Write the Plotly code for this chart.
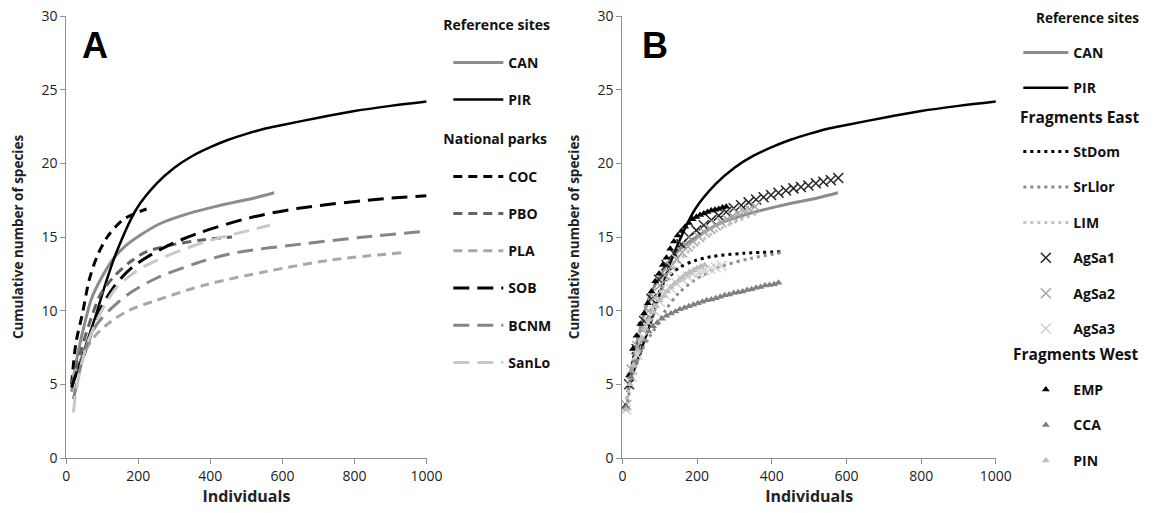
import plotly.graph_objects as go

# ---------------- Panel A data ----------------
PIR_x = [15, 40, 65, 85, 110, 140, 195, 250, 300, 350, 400, 450, 500, 550, 600, 700, 800, 900, 1000]
PIR_y = [4.8, 6.6, 8.4, 9.9, 11.9, 14.0, 16.9, 18.6, 19.7, 20.5, 21.1, 21.6, 22.0, 22.35, 22.6, 23.1,
         23.55, 23.9, 24.2]
CAN_x = [15, 30, 50, 70, 95, 130, 160, 204, 260, 341, 420, 522, 577]
CAN_y = [4.5, 6.8, 9.0, 10.8, 12.1, 13.5, 14.3, 15.1, 15.9, 16.6, 17.1, 17.65, 18.0]
COC_x = [15, 27, 45, 64, 86, 114, 159, 223]
COC_y = [5.0, 7.8, 9.8, 12.1, 13.7, 15.0, 16.2, 16.9]
PBO_x = [15, 41, 68, 95, 132, 177, 223, 300, 377, 460]
PBO_y = [5.0, 7.3, 9.4, 11.1, 12.3, 13.3, 14.0, 14.5, 14.8, 15.0]
PLA_x = [18, 45, 77, 123, 177, 250, 386, 554, 736, 936]
PLA_y = [5.5, 6.9, 8.2, 9.25, 10.05, 10.7, 11.75, 12.65, 13.44, 13.94]
SOB_x = [15, 32, 54, 73, 95, 132, 186, 277, 372, 509, 645, 881, 1000]
SOB_y = [4.8, 6.0, 7.3, 8.7, 10.1, 11.6, 13.0, 14.35, 15.3, 16.3, 16.95, 17.6, 17.8]
BCNM_x = [20, 40, 59, 86, 123, 177, 250, 359, 463, 645, 827, 1000]
BCNM_y = [4.0, 6.2, 7.8, 9.1, 10.1, 11.2, 12.2, 13.2, 13.9, 14.5, 15.0, 15.4]
SanLo_x = [20, 28, 50, 77, 105, 141, 195, 250, 359, 450, 500, 565]
SanLo_y = [3.1, 4.6, 7.1, 8.9, 10.3, 11.6, 12.7, 13.4, 14.46, 15.1, 15.4, 15.8]

# ---------------- Panel B data ----------------
StDom_x = [10, 30, 50, 72, 90, 116, 151, 195, 239, 326, 427]
StDom_y = [3.5, 6.8, 8.3, 9.6, 10.8, 12.0, 12.9, 13.4, 13.67, 13.9, 14.0]
SrLlor_x = [10, 30, 50, 72, 90, 116, 151, 195, 265, 344, 427]
SrLlor_y = [3.3, 5.8, 7.2, 8.2, 8.9, 10.05, 11.2, 12.1, 13.0, 13.55, 13.95]
LIM_x = [10, 30, 50, 75, 100, 130, 160, 200, 250, 300, 360]
LIM_y = [3.5, 6.5, 8.2, 9.8, 11.2, 12.6, 13.6, 14.5, 15.4, 16.0, 16.6]

AgSa1_x = [18, 38, 58, 78, 98, 118, 138, 158, 178, 198, 218, 238, 258, 278, 298,
           318, 338, 358, 378, 398, 418, 438, 458, 478, 498, 518, 538, 558, 578]
AgSa1_y = [5.0, 7.4, 9.3, 10.8, 12.1, 13.1, 13.9, 14.5, 15.0, 15.45, 15.8, 16.15, 16.45, 16.7, 16.95,
           17.15, 17.35, 17.55, 17.7, 17.85, 18.0, 18.15, 18.3, 18.4, 18.5, 18.65, 18.75, 18.85, 19.0]
AgSa2_x = [10, 25, 40, 55, 70, 85, 100, 115, 130, 145, 160, 175, 190, 205, 220, 235, 250,
           265, 280, 295, 310, 325, 340, 355]
AgSa2_y = [3.6, 6.0, 7.6, 8.9, 10.0, 10.9, 11.7, 12.4, 13.0, 13.5, 13.95, 14.35, 14.7, 15.0, 15.3,
           15.55, 15.8, 16.0, 16.2, 16.4, 16.6, 16.75, 16.9, 17.05]
AgSa3_x = [10, 25, 40, 55, 70, 85, 100, 115, 130, 145, 160, 175, 190, 205, 220, 235, 250, 265]
AgSa3_y = [3.3, 5.5, 7.0, 8.2, 9.2, 10.0, 10.6, 11.1, 11.5, 11.85, 12.1, 12.3, 12.5, 12.6, 12.75,
           12.85, 12.95, 13.05]
EMP_x = [8, 18, 28, 38, 48, 58, 68, 78, 88, 98, 108, 118, 128, 138, 148, 158, 168, 178, 188,
         198, 208, 218, 228, 238, 248, 258, 268, 278]
EMP_y = [3.5, 5.6, 7.4, 8.3, 9.1, 9.8, 10.5, 11.3, 12.0, 12.5, 13.1, 13.6, 14.2, 14.7, 15.1, 15.4,
         15.7, 15.95, 16.2, 16.35, 16.5, 16.6, 16.7, 16.8, 16.85, 16.9, 17.0, 17.05]
CCA_x = [10, 22, 34, 46, 58, 70, 82, 94, 106, 118, 130, 142, 154, 166, 178, 190, 202, 214, 226,
         238, 250, 262, 274, 286, 298, 310, 322, 334, 346, 358, 370, 382, 394, 406, 418]
CCA_y = [3.5, 5.5, 6.5, 7.3, 8.0, 8.6, 8.95, 9.2, 9.45, 9.65, 9.8, 9.95, 10.1, 10.2, 10.3, 10.4,
         10.5, 10.6, 10.7, 10.75, 10.85, 10.95, 11.05, 11.1, 11.2, 11.25, 11.3, 11.4, 11.45, 11.55,
         11.6, 11.7, 11.75, 11.8, 11.9]
PIN_x = [10, 20, 30, 40, 50, 60, 70, 80, 90, 100, 110, 120, 130, 140, 150, 160, 170, 180, 190,
         200, 210, 220]
PIN_y = [3.3, 5.0, 6.3, 7.3, 8.1, 8.8, 9.4, 9.9, 10.3, 10.7, 11.0, 11.3, 11.6, 11.85, 12.05, 12.25,
         12.45, 12.6, 12.75, 12.9, 13.0, 13.1]

# legend group titles of panel B
B_TITLES = ["Reference sites", "Fragments East", "Fragments West"]

FONT = "Open Sans"
fig = go.Figure()


def line(x, y, name, color, width, dash, panel, legend):
    xa, ya = ("x", "y") if panel == "A" else ("x2", "y2")
    fig.add_trace(go.Scatter(
        x=x, y=y, name=name, mode="lines", xaxis=xa, yaxis=ya,
        line=dict(color=color, width=width, dash=dash, shape="spline", smoothing=0.9),
        legend=legend, legendgroup=panel + name, showlegend=True))


def marks(x, y, name, color, symbol, size, panel, legend):
    xa, ya = ("x", "y") if panel == "A" else ("x2", "y2")
    mk = dict(color=color, size=size, symbol=symbol)
    if "x-thin" in symbol:
        mk["line"] = dict(color=color, width=1.5)
    fig.add_trace(go.Scatter(
        x=x, y=y, name=name, mode="markers", xaxis=xa, yaxis=ya, marker=mk,
        legend=legend, legendgroup=panel + name, showlegend=True, cliponaxis=False))


SD = "9px,6px"
LD = "16px,8px"
DOT = "3px,4px"

# Panel A
line(CAN_x, CAN_y, "CAN", "#8c8c8c", 3, "solid", "A", "legend")
line(PIR_x, PIR_y, "PIR", "#000000", 2.5, "solid", "A", "legend")
line(COC_x, COC_y, "COC", "#000000", 3, SD, "A", "legend2")
line(PBO_x, PBO_y, "PBO", "#636363", 3, SD, "A", "legend2")
line(PLA_x, PLA_y, "PLA", "#a8a8a8", 3, SD, "A", "legend2")
line(SOB_x, SOB_y, "SOB", "#000000", 3, LD, "A", "legend2")
line(BCNM_x, BCNM_y, "BCNM", "#858585", 3, LD, "A", "legend2")
line(SanLo_x, SanLo_y, "SanLo", "#c8c8c8", 3, LD, "A", "legend2")

# Panel B
line(CAN_x, CAN_y, "CAN", "#8c8c8c", 3, "solid", "B", "legend3")
line(PIR_x, PIR_y, "PIR", "#000000", 2.5, "solid", "B", "legend3")
line(StDom_x, StDom_y, "StDom", "#000000", 3, DOT, "B", "legend4")
line(SrLlor_x, SrLlor_y, "SrLlor", "#8a8a8a", 3, DOT, "B", "legend4")
line(LIM_x, LIM_y, "LIM", "#c4c4c4", 3, DOT, "B", "legend4")
marks(AgSa1_x, AgSa1_y, "AgSa1", "#262626", "x-thin-open", 10, "B", "legend4")
marks(AgSa2_x, AgSa2_y, "AgSa2", "#a6a6a6", "x-thin-open", 10, "B", "legend4")
marks(AgSa3_x, AgSa3_y, "AgSa3", "#d2d2d2", "x-thin-open", 10, "B", "legend4")
marks(EMP_x, EMP_y, "EMP", "#000000", "triangle-up", 7, "B", "legend5")
marks(CCA_x, CCA_y, "CCA", "#7f7f7f", "triangle-up", 7, "B", "legend5")
marks(PIN_x, PIN_y, "PIN", "#bdbdbd", "triangle-up", 7, "B", "legend5")

W, H = 1157, 513
TOP, BOT = 16, 458


def py(p):
    return (BOT - p) / (BOT - TOP)


axis_common = dict(showgrid=False, zeroline=False, showline=True, linecolor="#8f8f8f",
                   linewidth=1, ticks="outside", ticklen=5, tickcolor="#8f8f8f",
                   tickfont=dict(family=FONT, size=14, color="#222"))

leg_font = dict(family=FONT, size=14, color="#111", weight="bold")
title_font = dict(family=FONT, size=13, color="#111", weight="bold")


def leg(x, top, indent, itemwidth, gap, title=None, size=14):
    d = dict(x=x / W, y=py(top), xanchor="left", yanchor="top", bgcolor="rgba(0,0,0,0)",
             font=leg_font, itemwidth=itemwidth, tracegroupgap=gap, indentation=indent)
    if title:
        d["title"] = dict(text="<span style='font-size:%gpx'>%s</span><br> " % (size, title),
                          font=title_font)
    return d


xtitle = dict(text="Individuals", font=dict(family=FONT, size=16, color="#222", weight="bold"), standoff=2)
ytitle = dict(text="Cumulative number of species",
              font=dict(family=FONT, size=13.5, color="#222", weight="bold"), standoff=14)

ann = [
    dict(text="A", x=92.5 / W, y=py(45), xref="paper", yref="paper", showarrow=False,
         xanchor="center", yanchor="middle",
         font=dict(family="Liberation Sans", size=36, color="#000", weight="bold")),
    dict(text="B", x=662 / W, y=py(45), xref="paper", yref="paper", showarrow=False,
         xanchor="center", yanchor="middle",
         font=dict(family="Liberation Sans", size=36, color="#000", weight="bold")),
]
for t, yc, fs in zip(B_TITLES, [18, 117, 354], [13.5, 15.5, 15.5]):
    ann.append(dict(text=t, x=1.0, y=py(yc), xref="paper", yref="paper", showarrow=False,
                    xanchor="right", yanchor="middle",
                    font=dict(family=FONT, size=fs, color="#111", weight="bold")))

fig.update_layout(
    width=W, height=H,
    margin=dict(l=0, r=0, t=TOP, b=H - BOT),
    plot_bgcolor="white", paper_bgcolor="white",
    xaxis=dict(domain=[63.3 / W, 430 / W], range=[0, 1000], tickvals=[0, 200, 400, 600, 800, 1000],
               title=xtitle, anchor="y", **axis_common),
    yaxis=dict(domain=[0, 1], range=[0, 30], tickvals=[0, 5, 10, 15, 20, 25, 30],
               title=ytitle, anchor="x", **axis_common),
    xaxis2=dict(domain=[629.3 / W, 1009.3 / W], range=[0, 1000], tickvals=[0, 200, 400, 600, 800, 1000],
                title=xtitle, anchor="y2", **axis_common),
    yaxis2=dict(domain=[0, 1], range=[0, 30], tickvals=[0, 5, 10, 15, 20, 25, 30],
                title=ytitle, anchor="x2", **axis_common),
    legend=leg(445, 13, 7, 50, 16, "Reference sites"),
    legend2=leg(445, 127, 7, 50, 16, "National parks"),
    legend3=leg(1022, 37, 10, 45, 14),
    legend4=leg(1022, 136, 10, 45, 14.2),
    legend5=leg(1022, 374, 10, 45, 14.2),
    annotations=ann,
)

fig.write_html("out.html")
